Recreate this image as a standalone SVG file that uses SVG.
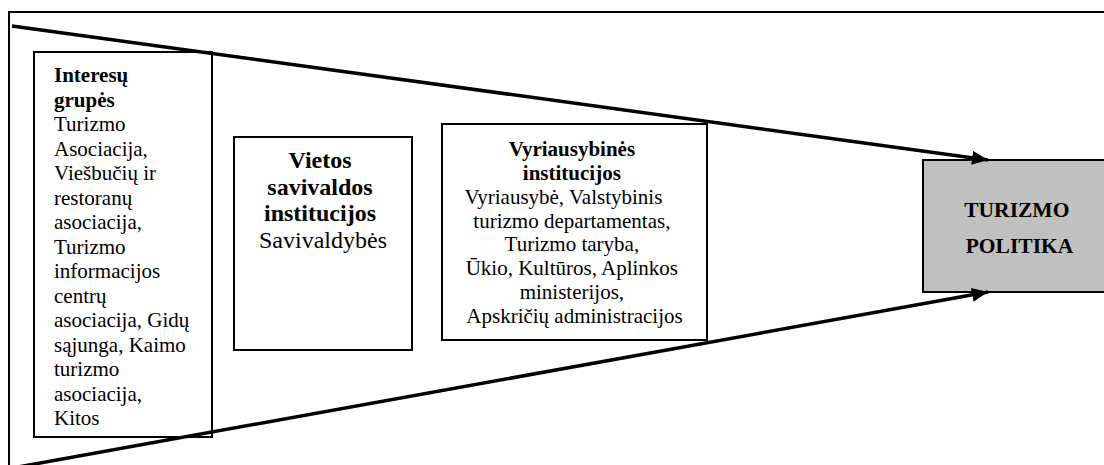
<svg xmlns="http://www.w3.org/2000/svg" width="1104" height="465" viewBox="0 0 1104 465">
<style>
  .box{fill:#fff;stroke:#000;stroke-width:2}
  .gray{fill:#c0c0c0;stroke:#000;stroke-width:2}
  .frame{fill:none;stroke:#000;stroke-width:2}
  .conn{fill:none;stroke:#000;stroke-width:3.5}
  .txt{font-family:'Liberation Serif',serif;fill:#000}
  .b{font-weight:bold}
  .t1{font-size:21px}
  .t2{font-size:24px}
  .t3{font-size:21px}
  .tg{font-size:21.5px;font-weight:bold}
</style>
<defs>
  <marker id="arr" markerUnits="userSpaceOnUse" markerWidth="18" markerHeight="14" refX="16" refY="7" orient="auto">
    <path d="M0,0 L16,7 L0,14 Z" fill="#000"/>
  </marker>
</defs>
<g id="frame">
  <path class="frame" d="M9,465 L9,12 L1104,12"/>
</g>
<g id="interesu-grupes">
  <rect class="box" x="34" y="52" width="178" height="385"/>
  <text class="txt t1" font-family="Liberation Serif, serif" x="54">
    <tspan class="b" x="54" y="82">Interesų</tspan>
    <tspan class="b" x="54" y="106.5">grupės</tspan>
    <tspan x="54" y="131">Turizmo</tspan>
    <tspan x="54" y="155.5">Asociacija,</tspan>
    <tspan x="54" y="180">Viešbučių ir</tspan>
    <tspan x="54" y="204.5">restoranų</tspan>
    <tspan x="54" y="229">asociacija,</tspan>
    <tspan x="54" y="253.5">Turizmo</tspan>
    <tspan x="54" y="278">informacijos</tspan>
    <tspan x="54" y="302.5">centrų</tspan>
    <tspan x="54" y="327">asociacija, Gidų</tspan>
    <tspan x="54" y="351.5">sąjunga, Kaimo</tspan>
    <tspan x="54" y="376">turizmo</tspan>
    <tspan x="54" y="400.5">asociacija,</tspan>
    <tspan x="54" y="425">Kitos</tspan>
  </text>
</g>
<g id="vietos-savivaldos">
  <rect class="box" x="234" y="137" width="178" height="213"/>
  <text class="txt t2" font-family="Liberation Serif, serif" text-anchor="middle">
    <tspan class="b" x="323" y="168">Vietos</tspan>
    <tspan class="b" x="323" y="194.5">savivaldos</tspan>
    <tspan class="b" x="323" y="221">institucijos</tspan>
    <tspan x="323" y="247.5">Savivaldybės</tspan>
  </text>
</g>
<g id="vyriausybines">
  <rect class="box" x="442" y="124" width="265" height="216"/>
  <text class="txt t3" font-family="Liberation Serif, serif" text-anchor="middle">
    <tspan class="b" x="574.5" y="156">Vyriausybinės</tspan>
    <tspan class="b" x="574.5" y="179.5">institucijos</tspan>
    <tspan x="566" y="203.5">Vyriausybė, Valstybinis</tspan>
    <tspan x="574.5" y="227.5">turizmo departamentas,</tspan>
    <tspan x="574.5" y="251">Turizmo taryba,</tspan>
    <tspan x="574.5" y="275">Ūkio, Kultūros, Aplinkos</tspan>
    <tspan x="574.5" y="299">ministerijos,</tspan>
    <tspan x="574.5" y="322.5">Apskričių administracijos</tspan>
  </text>
</g>
<g id="turizmo-politika">
  <rect class="gray" x="923" y="160" width="190" height="132"/>
  <text class="txt tg" font-family="Liberation Serif, serif" text-anchor="middle">
    <tspan x="1019.5" y="217">TURIZMO</tspan>
    <tspan x="1019.5" y="253">POLITIKA</tspan>
  </text>
</g>
<g id="connectors">
  <line class="conn" x1="12" y1="26" x2="988" y2="160" marker-end="url(#arr)"/>
  <line class="conn" x1="18" y1="467" x2="988" y2="292" marker-end="url(#arr)"/>
</g>
</svg>
